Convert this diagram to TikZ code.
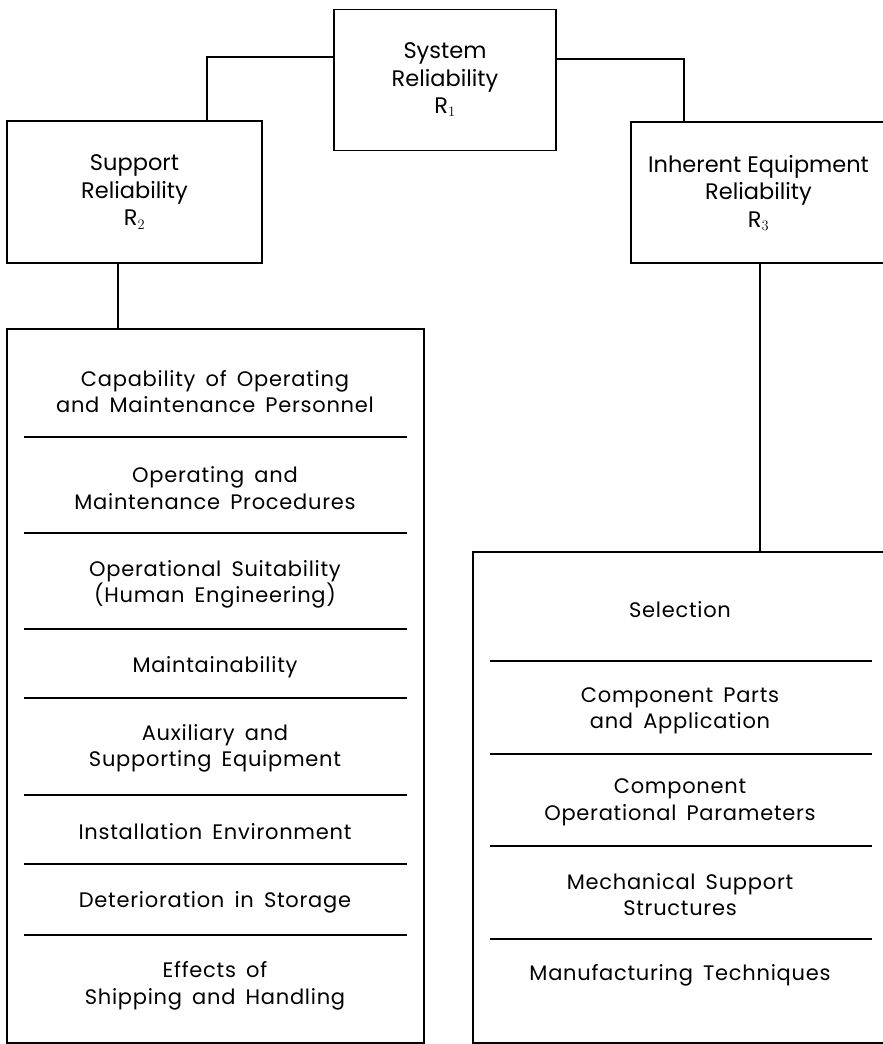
\documentclass[tikz,border=0pt]{standalone}
\usepackage{fontspec}
\setmainfont{Poppins}
\newfontfamily\spacedfont[LetterSpace=3.5,WordSpace=1.6]{Poppins}
\begin{document}
\begin{tikzpicture}[x=1pt,y=-1pt,
  frame/.style={draw, line width=1.8pt, inner sep=0pt, align=center,
    font=\fontsize{22.5}{27.5}\selectfont},
  item/.style={align=center, inner sep=0pt, font=\spacedfont\fontsize{21}{26.5}\selectfont},
  link/.style={line width=1.8pt},
  divider/.style={line width=1.8pt}]
\useasboundingbox (0,0) rectangle (883,1044);
% top boxes
\node[frame, minimum width=222pt, minimum height=141pt] (r1) at (445,80)
  {System\\Reliability\\R$_1$};
\node[frame, minimum width=255pt, minimum height=142pt] (r2) at (134.5,192)
  {Support\\Reliability\\R$_2$};
\node[frame, minimum width=255pt, minimum height=141pt] (r3) at (758.5,192.5)
  {Inherent Equipment\\Reliability\\R$_3$};
% list boxes
\node[draw, line width=1.8pt, minimum width=417pt, minimum height=714pt] (lb) at (215.5,686) {};
\node[draw, line width=1.8pt, minimum width=413pt, minimum height=491pt] (rb) at (679.5,797.5) {};
% connectors
\coordinate (cl) at (207,57);
\coordinate (cr) at (684,59);
\draw[link] (r1.west |- cl) -| (r2.north -| cl);
\draw[link] (r1.east |- cr) -| (r3.north -| cr);
\coordinate (dl) at (118,0);
\coordinate (dr) at (760,0);
\draw[link] (r2.south -| dl) -- (lb.north -| dl);
\draw[link] (r3.south -| dr) -- (rb.north -| dr);
% left items
\node[item] (l1) at (215,391.5) {Capability of Operating\\and Maintenance Personnel};
\node[item] (l2) at (215,488) {Operating and\\Maintenance Procedures};
\node[item] (l3) at (215,584.5) {Operational Suitability\\(Human Engineering)};
\node[item] (l4) at (215,667) {Maintainability};
\node[item] (l5) at (215,748.5) {Auxiliary and\\Supporting Equipment};
\node[item] (l6) at (215,832) {Installation Environment};
\node[item] (l7) at (215,902) {Deterioration in Storage};
\node[item] (l8) at (215,986) {Effects of\\Shipping and Handling};
\foreach \y in {437,533,629,698,795,864,935}
  \draw[divider] (24,\y) -- (407,\y);
% right items
\node[item] (m1) at (680,610) {Selection};
\node[item] (m2) at (680,711) {Component Parts\\and Application};
\node[item] (m3) at (680,802.5) {Component\\Operational Parameters};
\node[item] (m4) at (680,894.5) {Mechanical Support\\Structures};
\node[item] (m5) at (680,975) {Manufacturing Techniques};
\foreach \y in {661,754,846,939}
  \draw[divider] (490,\y) -- (872,\y);
\end{tikzpicture}
\end{document}
